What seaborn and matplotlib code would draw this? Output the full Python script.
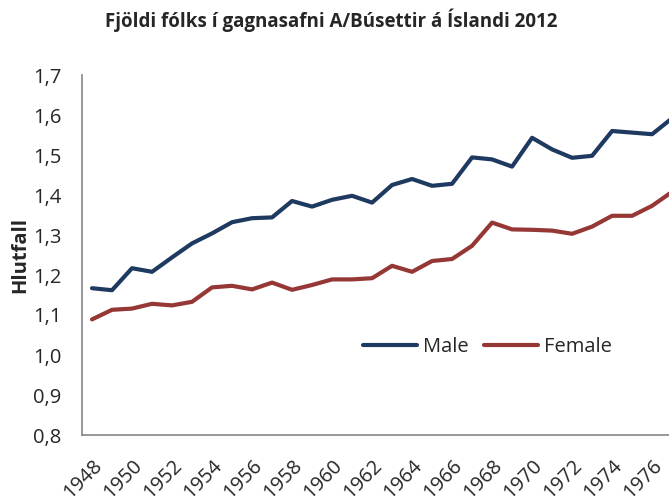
import numpy as np
import pandas as pd
import matplotlib
matplotlib.use("Agg")
from matplotlib import pyplot as plt
import matplotlib.transforms as mtransforms
import seaborn as sns

years = list(range(1948, 1978))
male = [1.167, 1.162, 1.217, 1.208, 1.244, 1.279, 1.304, 1.332, 1.342, 1.344,
        1.385, 1.371, 1.388, 1.398, 1.381, 1.425, 1.440, 1.423, 1.428, 1.494,
        1.489, 1.471, 1.543, 1.514, 1.493, 1.498, 1.560, 1.556, 1.552, 1.592]
female = [1.089, 1.113, 1.116, 1.128, 1.124, 1.133, 1.169, 1.173, 1.164, 1.181,
          1.163, 1.175, 1.189, 1.189, 1.192, 1.223, 1.208, 1.235, 1.240, 1.273,
          1.331, 1.314, 1.313, 1.311, 1.303, 1.321, 1.348, 1.348, 1.373, 1.408]
yticks = [0.8, 0.9, 1.0, 1.1, 1.2, 1.3, 1.4, 1.5, 1.6, 1.7]

df = pd.DataFrame({
    "year": years * 2,
    "value": male + female,
    "sex": ["Male"] * len(years) + ["Female"] * len(years),
})

sns.set_style("white")
plt.rcParams['font.family'] = ['Open Sans', 'DejaVu Sans']

fig = plt.figure(figsize=(6.69, 5.0), dpi=100)
ax = fig.add_axes([0.1226, 0.13, 0.897, 0.72])

sns.lineplot(data=df, x="year", y="value", hue="sex",
             palette={"Male": "#1f3a60", "Female": "#953735"},
             linewidth=3, ax=ax)

ax.set_xlim(1947.5, 1977.5)
ax.set_ylim(0.8, 1.7)
ax.set_yticks(yticks)
ax.set_yticklabels([f"{t:.1f}".replace(".", ",") for t in yticks], fontsize=14.5)
ax.set_xticks(years[::2])
ax.set_xticklabels([str(y) for y in years[::2]], rotation=45, ha="right",
                   rotation_mode="anchor", fontsize=14.5)
offset = mtransforms.ScaledTranslation(-0.09, -0.02, fig.dpi_scale_trans)
for lbl in ax.get_xticklabels():
    lbl.set_transform(lbl.get_transform() + offset)
ax.tick_params(axis="y", length=0, pad=15)
ax.tick_params(axis="x", length=0, pad=15)

for s in ["top", "right"]:
    ax.spines[s].set_visible(False)
for s in ["left", "bottom"]:
    ax.spines[s].set_color("#868686")
    ax.spines[s].set_linewidth(1.2)

ax.set_xlabel("")
ax.set_ylabel("Hlutfall", fontsize=14.5, fontweight="bold", labelpad=2)

fig.text(0.495, 0.96, "Fjöldi fólks í gagnasafni A/Búsettir á Íslandi 2012",
         ha="center", va="center", fontsize=13.5, fontweight="bold")

handles, labels = ax.get_legend_handles_labels()
ax.legend(handles, labels, ncol=2, frameon=False, fontsize=14.5,
          loc="center left", bbox_to_anchor=(0.542, 0.305),
          bbox_transform=fig.transFigure, handlelength=2.7,
          columnspacing=0.75, handletextpad=0.3, borderpad=0, borderaxespad=0)

fig.savefig("out.png", dpi=100)
